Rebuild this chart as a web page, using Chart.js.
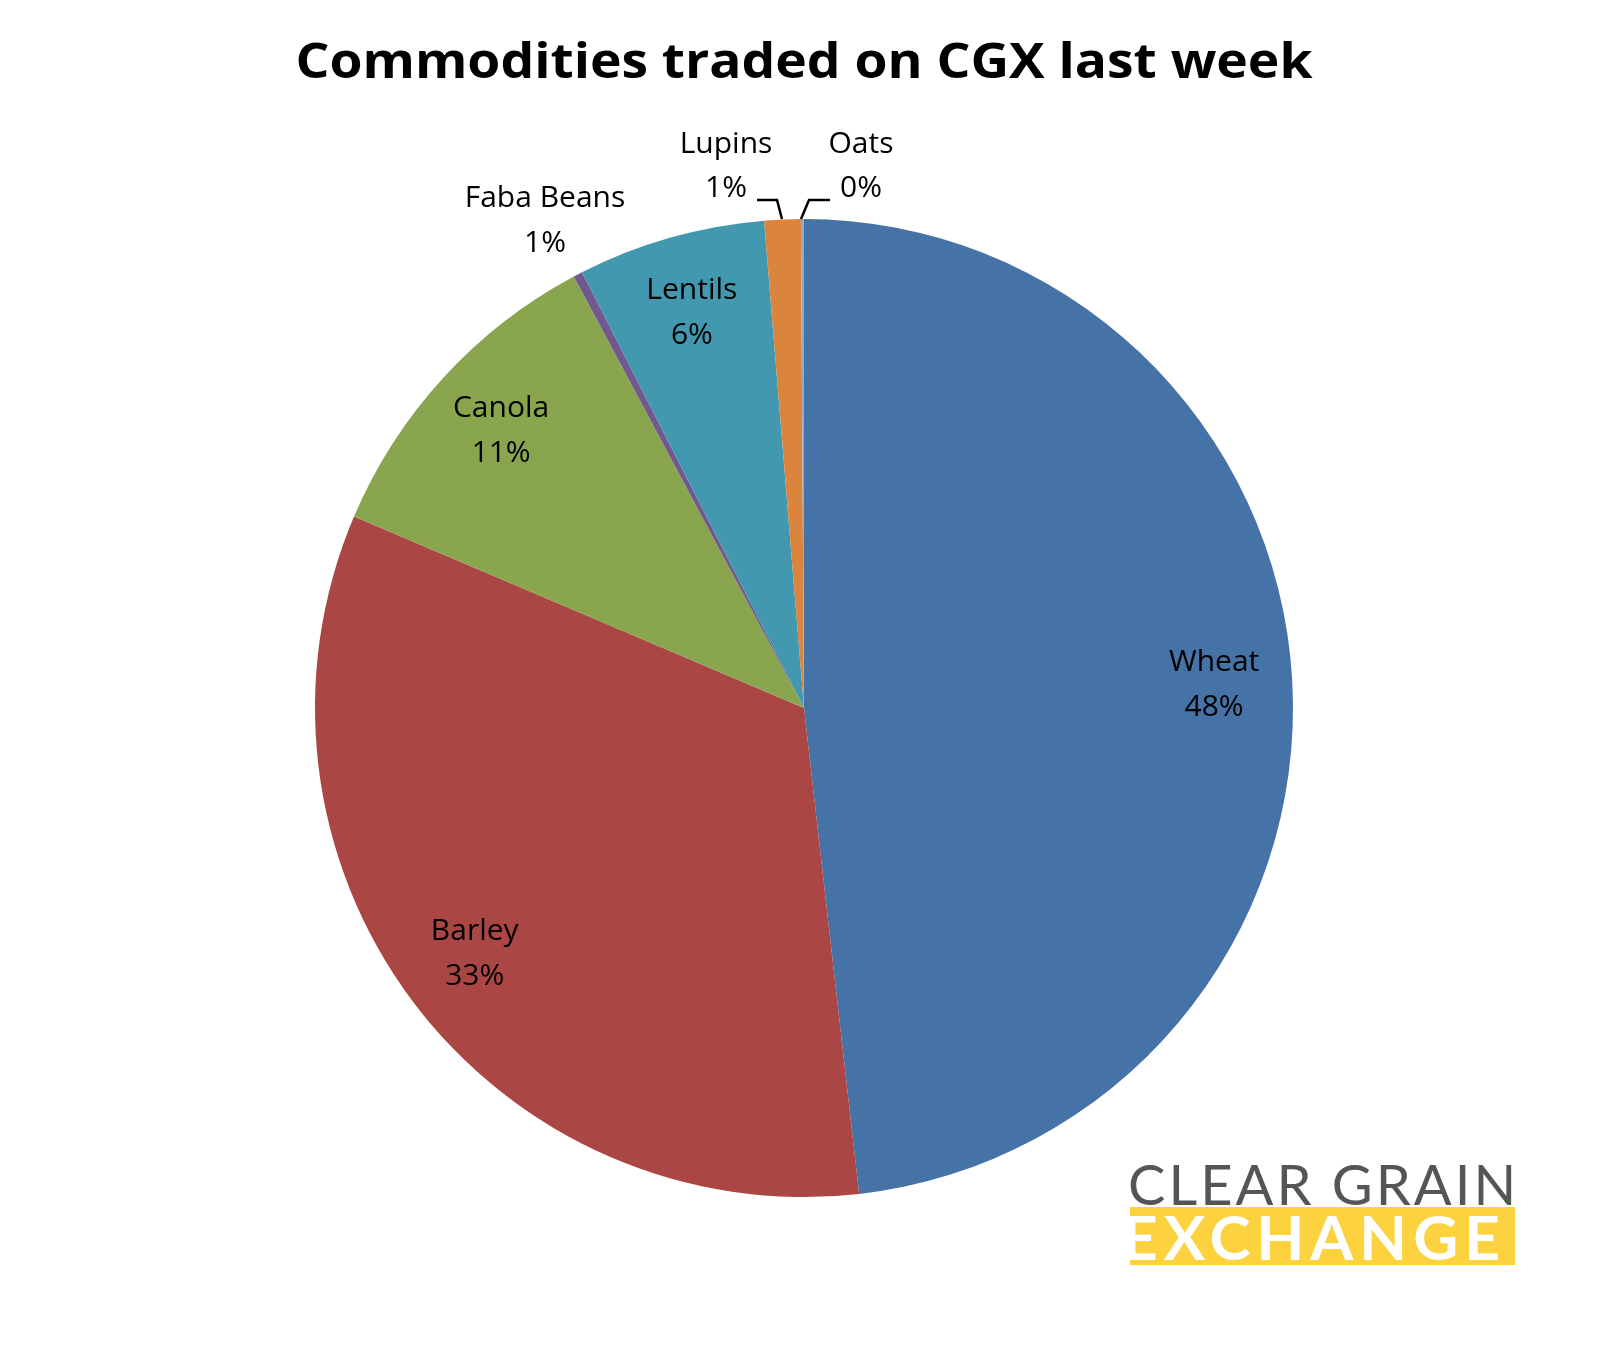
<!DOCTYPE html>
<html><head><meta charset="utf-8">
<script src="https://cdn.jsdelivr.net/npm/chart.js@4"></script>
<style>
body{margin:0;background:#fff;}
#wrap{position:relative;width:1608px;height:1350px;}
#logo1{position:absolute;left:1128px;top:1150px;width:390px;font:56px "Lato",sans-serif;color:#555;letter-spacing:3px;white-space:nowrap;}
#logo2{position:absolute;left:1130px;top:1207px;width:385px;height:58px;background:#FCD33F;color:#fff;font:bold 62px "Lato",sans-serif;line-height:58px;overflow:hidden;white-space:nowrap;text-indent:-8px;letter-spacing:6px;}
</style></head><body>
<div id="wrap"><canvas id="c" width="1608" height="1350"></canvas>
<div id="logo1">CLEAR GRAIN</div><div id="logo2">EXCHANGE</div></div>
<script>
const categories=["Wheat","Barley","Canola","Faba Beans","Lentils","Lupins","Oats"];
const values=[48.2,33.2,10.8,0.3,6.2,1.2,0.1];
const pctLabels=["48%","33%","11%","1%","6%","1%","0%"];
const colors=["#4572A7","#AA4643","#89A54E","#71588F","#4198AF","#DB843D","#93A9CF"];
const titleText="Commodities traded on CGX last week";

const labelPlugin={id:'lbl',afterDraw(chart){
  const ctx=chart.ctx;const meta=chart.getDatasetMeta(0);
  ctx.save();
  ctx.fillStyle='#000';ctx.textAlign='center';ctx.textBaseline='middle';
  ctx.font='bold 48px "Open Sans", sans-serif';
  let w=ctx.measureText(titleText).width;
  ctx.save();ctx.translate(804,64);ctx.scale(1017/w,1);ctx.fillText(titleText,0,0);ctx.restore();
  ctx.font='30px "Open Sans", sans-serif';
  const outside={3:[545,198,243],5:[726,144,188],6:[861,144,188]};
  meta.data.forEach((arc,i)=>{
    if(outside[i]){const o=outside[i];ctx.fillText(categories[i],o[0],o[1]);ctx.fillText(pctLabels[i],o[0],o[2]);return;}
    const a=(arc.startAngle+arc.endAngle)/2,r=arc.outerRadius*0.84;
    const x=arc.x+Math.cos(a)*r,y=arc.y+Math.sin(a)*r;
    ctx.fillText(categories[i],x,y-22);ctx.fillText(pctLabels[i],x,y+23);
  });
  ctx.strokeStyle='#000';ctx.lineWidth=2.5;
  ctx.beginPath();ctx.moveTo(757,200);ctx.lineTo(777,200);ctx.lineTo(782,219);ctx.stroke();
  ctx.beginPath();ctx.moveTo(830,200);ctx.lineTo(809,200);ctx.lineTo(801,219);ctx.stroke();
  ctx.restore();
}};
new Chart(document.getElementById('c'),{type:'pie',
 data:{labels:categories,datasets:[{data:values,backgroundColor:colors,borderWidth:0}]},
 options:{responsive:false,animation:false,layout:{padding:{top:219,bottom:153,left:200,right:200}},
  plugins:{legend:{display:false},tooltip:{enabled:false},title:{display:false}}},
 plugins:[labelPlugin]});
</script></body></html>
